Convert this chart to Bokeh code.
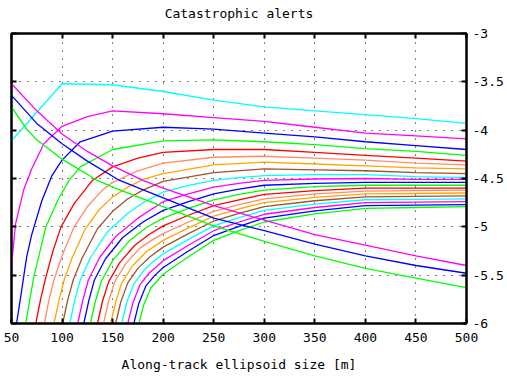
from bokeh.plotting import figure
from bokeh.models import LinearAxis, Range1d, FixedTicker, CustomJSTickFormatter
from bokeh.embed import file_html
from bokeh.resources import INLINE

# ---- texts and tick values ----
title_text = "Catastrophic alerts"
x_label = "Along-track ellipsoid size [m]"
x_ticks = [50, 100, 150, 200, 250, 300, 350, 400, 450, 500]
y_ticks = [-6, -5.5, -5, -4.5, -4, -3.5, -3]
y_tick_labels = ["-6", "-5.5", "-5", "-4.5", "-4", "-3.5", "-3"]

# ---- rising family of curves (20) ----
c01_x = [50, 100, 150, 200, 250, 300, 350, 400, 450, 500]
c01_y = [-4.11, -3.52, -3.53, -3.60, -3.69, -3.76, -3.80, -3.84, -3.88, -3.93]

c02_x = [50, 54, 62, 70, 82, 100, 125, 150, 200, 250, 300, 350, 400, 450, 500]
c02_y = [-5.40, -4.97, -4.62, -4.40, -4.14, -3.96, -3.86, -3.80, -3.83, -3.87, -3.91, -3.97, -4.03, -4.06, -4.09]

c03_x = [55, 60, 65, 70, 80, 90, 100, 118, 150, 200, 250, 300, 350, 400, 450, 500]
c03_y = [-6.0, -5.66, -5.31, -5.08, -4.73, -4.47, -4.31, -4.12, -4.01, -3.97, -3.99, -4.03, -4.07, -4.12, -4.16, -4.20]

c04_x = [64, 72, 84, 96, 107, 118, 150, 200, 250, 300, 350, 400, 450, 500]
c04_y = [-6.0, -5.52, -5.0, -4.72, -4.52, -4.38, -4.20, -4.11, -4.10, -4.12, -4.15, -4.19, -4.22, -4.26]

c05_x = [74, 79, 84, 91, 99, 112, 130, 150, 175, 200, 250, 300, 350, 400, 450, 500]
c05_y = [-6.0, -5.74, -5.52, -5.25, -5.0, -4.76, -4.52, -4.38, -4.29, -4.23, -4.20, -4.20, -4.23, -4.26, -4.29, -4.32]

c06_x = [82.5, 87, 92, 100, 112, 125, 140, 150, 175, 200, 250, 300, 350, 400, 450, 500]
c06_y = [-6.0, -5.76, -5.55, -5.30, -5.00, -4.79, -4.62, -4.54, -4.42, -4.34, -4.28, -4.27, -4.29, -4.31, -4.34, -4.36]

c07_x = [92, 97, 102, 110, 123, 137, 150, 165, 180, 200, 250, 300, 350, 400, 450, 500]
c07_y = [-6.0, -5.76, -5.55, -5.32, -5.02, -4.82, -4.69, -4.59, -4.51, -4.45, -4.36, -4.33, -4.35, -4.37, -4.39, -4.40]

c08_x = [100.6, 105.5, 111, 120, 135, 150, 165, 180, 200, 250, 300, 350, 400, 450, 500]
c08_y = [-6.0, -5.76, -5.55, -5.32, -5.02, -4.84, -4.71, -4.62, -4.53, -4.44, -4.40, -4.41, -4.42, -4.44, -4.45]

c09_x = [107.6, 112.5, 118, 128, 145, 165, 180, 200, 225, 250, 275, 300, 350, 400, 450, 500]
c09_y = [-6.0, -5.76, -5.55, -5.32, -5.05, -4.86, -4.75, -4.64, -4.57, -4.52, -4.49, -4.47, -4.46, -4.46, -4.48, -4.49]

c10_x = [115.5, 120.5, 126, 137, 153, 175, 200, 225, 250, 275, 300, 350, 400, 450, 500]
c10_y = [-6.0, -5.76, -5.55, -5.32, -5.10, -4.91, -4.74, -4.66, -4.59, -4.55, -4.52, -4.505, -4.50, -4.51, -4.51]

c11_x = [121.5, 126.5, 132, 143, 160, 180, 200, 225, 250, 275, 300, 350, 400, 450, 500]
c11_y = [-6.0, -5.76, -5.55, -5.33, -5.11, -4.95, -4.83, -4.74, -4.66, -4.61, -4.57, -4.55, -4.54, -4.54, -4.54]

c12_x = [128, 133, 139, 150, 166, 183, 200, 225, 250, 275, 300, 350, 400, 450, 500]
c12_y = [-6.0, -5.77, -5.56, -5.35, -5.15, -5.01, -4.91, -4.81, -4.72, -4.665, -4.62, -4.585, -4.57, -4.57, -4.57]

c13_x = [135, 140, 146, 157, 172, 186, 200, 225, 250, 275, 300, 350, 400, 450, 500]
c13_y = [-6.0, -5.77, -5.57, -5.37, -5.19, -5.08, -4.99, -4.88, -4.78, -4.72, -4.665, -4.625, -4.60, -4.60, -4.60]

c14_x = [141, 146, 152, 163, 177, 190, 200, 225, 250, 275, 300, 350, 400, 450, 500]
c14_y = [-6.0, -5.77, -5.57, -5.38, -5.22, -5.13, -5.07, -4.95, -4.84, -4.77, -4.71, -4.66, -4.63, -4.625, -4.62]

c15_x = [148, 153, 159, 170, 183, 200, 225, 250, 275, 300, 350, 400, 450, 500]
c15_y = [-6.0, -5.78, -5.58, -5.40, -5.26, -5.14, -5.01, -4.89, -4.815, -4.75, -4.695, -4.66, -4.655, -4.65]

c16_x = [153, 158, 165, 175, 187, 200, 225, 250, 275, 300, 350, 400, 450, 500]
c16_y = [-6.0, -5.78, -5.58, -5.43, -5.31, -5.21, -5.07, -4.94, -4.86, -4.79, -4.73, -4.69, -4.685, -4.68]

c17_x = [159, 164, 171, 181, 190, 200, 225, 250, 275, 300, 350, 400, 450, 500]
c17_y = [-6.0, -5.78, -5.59, -5.45, -5.36, -5.28, -5.13, -4.99, -4.905, -4.83, -4.765, -4.72, -4.715, -4.71]

c18_x = [165, 170, 177, 186, 200, 225, 250, 275, 300, 350, 400, 450, 500]
c18_y = [-6.0, -5.79, -5.60, -5.48, -5.35, -5.19, -5.04, -4.95, -4.87, -4.80, -4.75, -4.745, -4.74]

c19_x = [171, 176, 183, 191, 200, 225, 250, 275, 300, 350, 400, 450, 500]
c19_y = [-6.0, -5.79, -5.61, -5.51, -5.42, -5.25, -5.09, -4.995, -4.91, -4.835, -4.78, -4.775, -4.77]

c20_x = [176, 181, 188, 200, 225, 250, 275, 300, 350, 400, 450, 500]
c20_y = [-6.0, -5.80, -5.63, -5.49, -5.31, -5.14, -5.04, -4.95, -4.865, -4.81, -4.80, -4.79]

# ---- falling curves (3) ----
d1_x = [50, 75, 100, 125, 150, 180, 200, 250, 300, 350, 400, 450, 500]
d1_y = [-3.52, -3.80, -4.04, -4.22, -4.37, -4.52, -4.60, -4.78, -4.93, -5.08, -5.19, -5.30, -5.40]

d2_x = [50, 75, 100, 125, 157, 200, 250, 300, 350, 400, 450, 500]
d2_y = [-3.64, -3.93, -4.14, -4.32, -4.52, -4.70, -4.91, -5.04, -5.18, -5.30, -5.40, -5.48]

d3_x = [50, 65, 75, 100, 135, 150, 200, 250, 300, 350, 400, 450, 500]
d3_y = [-3.76, -3.99, -4.10, -4.30, -4.52, -4.59, -4.79, -4.99, -5.15, -5.30, -5.43, -5.53, -5.63]

palette = ["#00ffff", "#ff00ff", "#0000ff", "#00ff00",
           "#ff0000", "#ff8c69", "#ffa500", "#a0522d"]

rising = [(c01_x, c01_y), (c02_x, c02_y), (c03_x, c03_y), (c04_x, c04_y),
          (c05_x, c05_y), (c06_x, c06_y), (c07_x, c07_y), (c08_x, c08_y),
          (c09_x, c09_y), (c10_x, c10_y), (c11_x, c11_y), (c12_x, c12_y),
          (c13_x, c13_y), (c14_x, c14_y), (c15_x, c15_y), (c16_x, c16_y),
          (c17_x, c17_y), (c18_x, c18_y), (c19_x, c19_y), (c20_x, c20_y)]
falling = [(d1_x, d1_y, "#ff00ff"), (d2_x, d2_y, "#0000ff"), (d3_x, d3_y, "#00ff00")]

FONT = "DejaVu Sans Mono"

p = figure(width=506, height=374,
           x_range=Range1d(50, 500), y_range=Range1d(-6, -3),
           output_backend="svg", toolbar_location=None,
           y_axis_location="right",
           min_border_left=11, min_border_right=39,
           min_border_top=33, min_border_bottom=51)

p.background_fill_color = "white"
p.border_fill_color = "white"
p.outline_line_color = "black"
p.outline_line_width = 2

# grid
p.xgrid.ticker = FixedTicker(ticks=x_ticks)
p.ygrid.ticker = FixedTicker(ticks=y_ticks)
for g in (p.xgrid, p.ygrid):
    g.grid_line_color = "black"
    g.grid_line_dash = "1 7"
    g.grid_line_width = 1

blank = CustomJSTickFormatter(code="return '';")

def style_axis(ax, standoff=4, label_size="13px"):
    ax.axis_line_color = "black"
    ax.axis_line_width = 2
    ax.major_tick_in = 5
    ax.major_tick_out = 0
    ax.major_tick_line_width = 2
    ax.major_tick_line_color = "black"
    ax.minor_tick_line_color = None
    ax.major_label_text_font = FONT
    ax.major_label_text_font_size = label_size
    ax.major_label_text_color = "black"
    ax.major_label_standoff = standoff
    ax.axis_label_text_font = FONT
    ax.axis_label_text_font_size = "13px"
    ax.axis_label_text_font_style = "normal"
    ax.axis_label_text_color = "black"

xa = p.xaxis[0]
xa.ticker = FixedTicker(ticks=x_ticks)
style_axis(xa, standoff=9)
xa.axis_label = x_label
xa.axis_label_standoff = 12

ya = p.yaxis[0]
ya.ticker = FixedTicker(ticks=y_ticks)
ya.major_label_overrides = {t: s for t, s in zip(y_ticks, y_tick_labels)}
style_axis(ya, standoff=6)

left_ax = LinearAxis(ticker=FixedTicker(ticks=y_ticks), formatter=blank)
style_axis(left_ax, standoff=0, label_size="1px")
p.add_layout(left_ax, "left")

# top axis: ticks only, carries the chart title as its axis label
top_ax = LinearAxis(ticker=FixedTicker(ticks=x_ticks), formatter=blank)
style_axis(top_ax, standoff=0, label_size="1px")
top_ax.axis_label = title_text
top_ax.axis_label_standoff = 13
p.add_layout(top_ax, "above")

for i, (xs, ys) in enumerate(rising):
    p.line(xs, ys, line_color=palette[i % len(palette)], line_width=1.3)
for xs, ys, col in falling:
    p.line(xs, ys, line_color=col, line_width=1.3)

open("out.html", "w").write(file_html(p, INLINE))
